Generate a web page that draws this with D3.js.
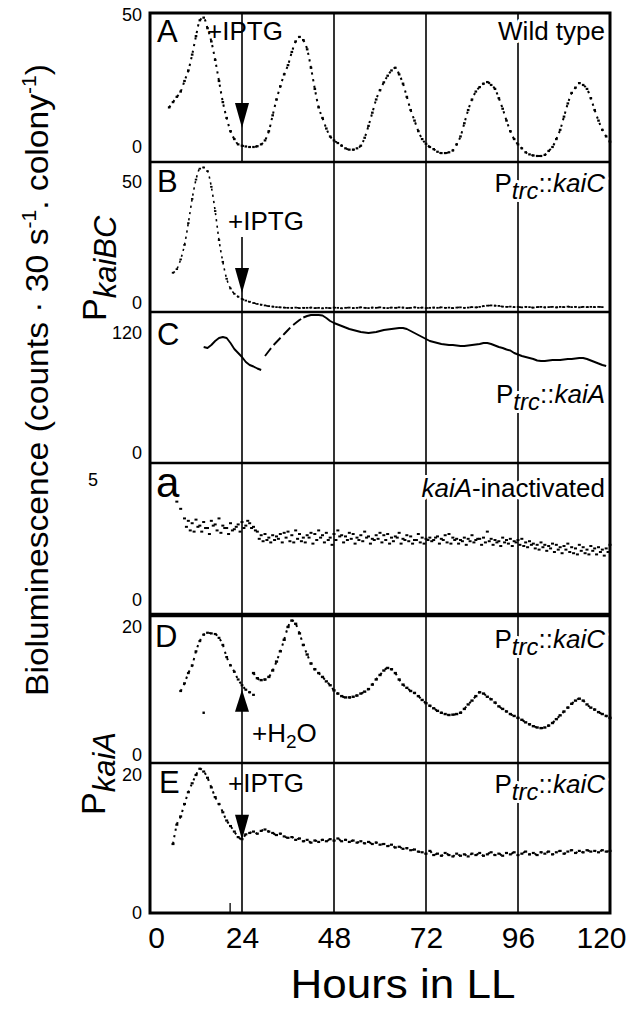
<!DOCTYPE html>
<html><head><meta charset="utf-8">
<script src="https://cdn.jsdelivr.net/npm/d3@7"></script>
<style>
body{margin:0;background:#fff}
svg{display:block}
text{font-family:"Liberation Sans",Arial,Helvetica,sans-serif;fill:#000}
</style>
</head><body>
<svg id="c" width="632" height="1014"></svg>
<script>
// ---------------- DATA ----------------
const hourTicks = [0, 24, 48, 72, 96, 120];
const gridHours = [24, 48, 72, 96];
const panelNames = ["A", "B", "C", "a", "D", "E"];
const panelTicks = [[0, 50], [0, 50], [0, 120], [0, 5], [0, 20], [0, 20]];
const panelNotes = ["Wild type", "Ptrc::kaiC", "Ptrc::kaiA", "kaiA-inactivated", "Ptrc::kaiC", "Ptrc::kaiC"];

// Panel A: wild type, hourly from h=5
const startA = 5;
const valsA = [15,17,19,21,25,29,35,42,48,49, 45,40,33,25,17,11,6,3,1,0.5,
  0.2,0,0,0.3,1,2.5,6,12,18,23, 27.5,31,36,40,41.7,40.5,37,30,22,15,
  11,7,4,2.5,1.5,0.5,-0.5,-1,-1,-0.5, 0.5,3.5,8,13,18,21.5,24.5,27,29,30,
  27.5,24,19,14,10,6,3,1.2,0,-0.8, -1.8,-2.3,-2.3,-2,-1.3,1,4,9,14,18,
  21,22.7,24,24.6,23.5,22,18.5,14.5,10,6, 3,1,-0.5,-2,-2.8,-3.2,-3.4,-3.4,-3,-1.5,
  0,3,6.5,11.5,16.5,20.5,22.5,24.2,23.5,22, 18.5,14,10,6.5,4,2];

// Panel B: Ptrc::kaiC + IPTG, hourly from h=6
const startB = 6;
const valsB = [12.5,14,18,24,33,43,51,55.5,56,54.5, 48,38,26,17,10,6,3.8,2.6,1.7,1,
  0.5,0,-0.4,-0.7,-1,-1.3,-1.5,-1.7,-1.8,-1.9, -2,-2,-1.9,-2.1,-2,-2,-1.9,-2.1,-2,-2.2,
  -2,-2.1,-1.9,-2,-2.2,-2,-1.9,-2.1,-2,-1.8, -2,-2.1,-1.9,-2,-1.8,-2,-2.1,-1.9,-2,-1.8,
  -1.9,-2.1,-2,-1.8,-2,-1.9,-2.1,-2,-1.9,-2, -1.8,-2,-1.9,-2.1,-1.9,-1.8,-2,-1.9,-1.7,-1.8,
  -1.6,-1.3,-1.1,-1,-1.1,-1.2,-1.5,-1.6,-1.5,-1.7, -1.6,-1.8,-1.6,-1.7,-1.9,-1.7,-1.6,-1.8,-1.7,-1.6,
  -1.8,-1.6,-1.7,-1.5,-1.7,-1.6,-1.8,-1.6,-1.7,-1.6, -1.7,-1.6,-1.7];

// Panel C: Ptrc::kaiA, two segments
const startC1 = 14;
const valsC1 = [106,105,108,112,115,116,115,110,104,100,96,91,88,86.5,84.5,83];
const startC2 = 30;
const valsC2 = [97,102,107,111,115,119,123,127,130,133,
  135.5,137,138,138,138,137.5,135,132,130,128.5, 127,125.5,124,123,122,121,120.5,120,120.5,121,
  122,123,123.5,124,124.5,125,125,124,122,120, 118,116,114,112,111,110,109,108.5,108,108,
  107.5,107,107,107.5,108,108.5,109,110,110,109, 107.5,106,105,103.5,102.5,100,98.5,97,96,95,
  94,92.5,92,92,92.5,93,93,93,93.5,94, 94,94.5,95,95,94,92.5,91,89.5,88,87];
const dashedUntilC2 = 40; // hour where dashed part of C2 ends

// Panel a: kaiA-inactivated, two overlapping scatter traces
const startA1 = 7;
const valsA1 = [4.1,3.8,3.4,3.3,3.2,3.35,3.1,3.25,3.0,3.3, 3.15,3.4,3.1,3.0,3.2,2.95,3.15,3.25,3.1,3.2,
  3.05,2.85,2.7,2.75,2.6,2.7,2.65,2.75,2.8,2.85, 2.7,2.9,2.75,2.6,2.7,2.8,2.75,2.9,2.7,2.8,
  2.6,2.75,2.9,2.7,2.65,2.8,2.75,2.6,2.7,2.85, 2.65,2.55,2.7,2.8,2.7,2.75,2.6,2.65,2.8,2.55,
  2.7,2.65,2.5,2.75,2.6,2.55,2.6,2.5,2.65,2.55, 2.7,2.75,2.6,2.55,2.5,2.6,2.55,2.7,2.5,2.55,
  2.6,2.85,2.55,2.5,2.45,2.6,2.5,2.55,2.45,2.5, 2.55,2.4,2.45,2.35,2.3,2.4,2.3,2.25,2.35,2.3,
  2.2,2.25,2.35,2.2,2.15,2.3,2.2,2.1,2.25,2.15, 2.2,2.1,2.15,2.3];
const startA2 = 9.5;
const valsA2 = [3.05,2.9,2.85,3.05,2.85,3.0,2.75,3.1,2.9,2.8, 3.0,2.75,2.9,3.05,2.85,3.0,3.3,3.0,2.9,2.55,
  2.45,2.5,2.4,2.5,2.55,2.4,2.6,2.45,2.4,2.55, 2.45,2.4,2.6,2.35,2.5,2.6,2.4,2.5,2.3,2.5,
  2.65,2.4,2.5,2.55,2.35,2.5,2.45,2.6,2.35,2.5, 2.55,2.4,2.5,2.35,2.45,2.6,2.35,2.5,2.45,2.35,
  2.5,2.4,2.35,2.5,2.45,2.6,2.35,2.5,2.4,2.35, 2.5,2.35,2.45,2.3,2.45,2.4,2.55,2.3,2.4,2.45,
  2.3,2.4,2.25,2.4,2.35,2.25,2.4,2.3,2.25,2.2, 2.3,2.15,2.1,2.2,2.05,2.15,2.0,2.1,1.95,2.1,
  2.0,1.95,1.9,2.05,1.95,1.9,2.05,1.9,2.0,1.85, 2.0];

// Panel D: Ptrc::kaiC + H2O
const startD1 = 8;
const valsD1 = [10,11.2,12.8,14,16.2,17.8,18.8,19.1,19,18.9,18.3,17.2,15.3,14,13,11.8,10.9,10.2,9.8,9.4];
const strayD = [[14, 6.6]];
const startD2 = 27;
const valsD2 = [12.8,12,11.7,11.8,12.2,13.2,14.6,16.2,18,20,
  21,20.5,19,17.2,15.7,14.3,13.4,12.8,12.2,11.5, 10.9,10.1,9.6,9.2,9,9,9.1,9.3,9.6,9.9,
  10.3,11,11.8,12.5,13.2,13.6,13.4,12.8,11.8,11, 10.5,10,9.7,9.2,8.6,8.1,7.7,7.3,6.9,6.6,
  6.4,6.25,6.3,6.4,6.6,7.2,7.9,8.5,9.2,9.8, 9.6,9.1,8.7,8.2,7.6,7.2,6.8,6.4,6.1,5.8,
  5.5,5.1,4.8,4.5,4.3,4.2,4.3,4.6,5,5.6, 6.2,6.8,7.4,8,8.5,8.8,8.5,7.9,7.4,7.1, 6.7,6.4,6.1,5.8];

// Panel E: Ptrc::kaiC + IPTG
const startE = 6;
const valsE = [10,12.8,14,15.8,17.5,18.8,20,20.9,20.5,19.6, 18.2,16.8,15.8,14.6,13.4,12.6,11.8,11.0,10.7,11.4,
  11.6,11.8,11.5,11.9,12.1,11.8,11.6,11.3,11.5,11.1, 10.9,11.0,10.6,10.8,10.4,10.6,10.2,10.5,10.3,10.6,
  10.4,10.7,10.5,10.8,10.4,10.6,10.3,10.5,10.2,10.4, 10.1,10.3,10.0,10.2,9.9,10.0,9.7,9.9,9.5,9.6,
  9.3,9.4,9.1,9.2,8.9,8.8,8.6,9.0,8.4,8.6, 8.3,8.7,8.4,8.2,8.6,8.3,8.5,8.2,8.6,8.4,
  8.7,8.3,8.5,8.8,8.4,8.6,8.3,8.7,8.5,8.8, 8.4,8.6,8.9,8.5,8.7,8.4,8.8,8.6,8.9,8.5,
  8.8,9.0,8.6,8.9,9.1,8.7,9.0,8.8,9.1,8.9, 9.0,8.8,9.1,8.9,9.0];

// Arrow annotations: panel index, hour, value at tip, direction (1 = down, -1 = up)
const arrows = [
  {p: 0, h: 24, tip: 7.2, dir: 1, label: "+IPTG"},
  {p: 1, h: 24, tip: 4.1, dir: 1, label: "+IPTG"},
  {p: 4, h: 24, tip: 10.2, dir: -1, label: "+H2O"},
  {p: 5, h: 24, tip: 10.6, dir: 1, label: "+IPTG"}
];

// ---------------- LAYOUT ----------------
const svg = d3.select("#c");
const X0 = 150, X1 = 610;
const edges = [13, 162, 312, 463, 615, 763, 913];
const domains = [[-5.68, 50.76], [-3.72, 58.26], [-10, 141], [-0.625, 5.71], [-1.25, 21.875], [0, 21.74]];
const x = d3.scaleLinear().domain([0, 120]).range([X0, X1]);
const ys = domains.map((dm, i) => d3.scaleLinear().domain(dm).range([edges[i + 1], edges[i]]));

const gLines = svg.append("g");
const gData = svg.append("g");
const gText = svg.append("g");

// vertical grid lines
ys.forEach((y, i) => {
  gridHours.forEach(h => {
    if (i === 1 && h === 24) return; // panel B: arrow only
    gLines.append("line").attr("x1", x(h)).attr("x2", x(h))
      .attr("y1", edges[i]).attr("y2", edges[i + 1])
      .attr("stroke", "#000").attr("stroke-width", 1.6);
  });
});

// ---------- data marks ----------
function marks(y, start, vals, w = 3.2, hgt = 2.2) {
  gData.append("g").selectAll("rect").data(vals).join("rect")
    .attr("x", (d, i) => x(start + i) - w / 2)
    .attr("y", d => y(d) - hgt / 2)
    .attr("width", w).attr("height", hgt).attr("fill", "#000");
}
function dotted(y, start, vals, dash = "2.2,4.5", sw = 2) {
  const line = d3.line().x((d, i) => x(start + i)).y(d => y(d)).curve(d3.curveMonotoneX);
  gData.append("path").attr("d", line(vals)).attr("fill", "none")
    .attr("stroke", "#000").attr("stroke-width", sw).attr("stroke-dasharray", dash);
}
function solid(y, pts, sw = 1.8, dash = null) {
  const line = d3.line().x(d => x(d[0])).y(d => y(d[1]));
  const p = gData.append("path").attr("d", line(pts)).attr("fill", "none")
    .attr("stroke", "#000").attr("stroke-width", sw).attr("stroke-linejoin", "round");
  if (dash) p.attr("stroke-dasharray", dash);
}

// A
dotted(ys[0], startA, valsA); marks(ys[0], startA, valsA, 2.6, 2.2);
// B
dotted(ys[1], startB, valsB, "2.2,4", 1.6); marks(ys[1], startB, valsB, 2.4, 1.8);
// C
const c1 = valsC1.map((v, i) => [startC1 + i, v]);
const c2 = valsC2.map((v, i) => [startC2 + i, v]);
solid(ys[2], c1, 1.9);
solid(ys[2], c2.filter(d => d[0] <= dashedUntilC2), 1.9, "10,4");
solid(ys[2], c2.filter(d => d[0] >= dashedUntilC2), 1.9);
// a
marks(ys[3], startA1, valsA1, 3, 2);
marks(ys[3], startA2, valsA2, 3, 2);
// D
dotted(ys[4], startD1, valsD1); marks(ys[4], startD1, valsD1, 2.8, 2.2);
dotted(ys[4], startD2, valsD2); marks(ys[4], startD2, valsD2, 3.2, 2.4);
strayD.forEach(d => gData.append("rect").attr("x", x(d[0]) - 1.2).attr("y", ys[4](d[1]) - 1.2)
  .attr("width", 2.4).attr("height", 2.4));
// E
dotted(ys[5], startE, valsE); marks(ys[5], startE, valsE, 3, 2.2);

// ---------- arrows ----------
arrows.forEach(a => {
  const y = ys[a.p], xa = x(a.h), ty = y(a.tip);
  if (a.p === 1) {
    gLines.append("line").attr("x1", xa).attr("x2", xa).attr("y1", 237).attr("y2", edges[2])
      .attr("stroke", "#000").attr("stroke-width", 1.6);
  }
  const hl = a.dir === 1 ? 25 : 22, hw = 7;
  const by = ty - a.dir * hl;
  gLines.append("path").attr("d", `M${xa - hw},${by}L${xa + hw},${by}L${xa},${ty}Z`).attr("fill", "#000");
});

// ---------- frame ----------
edges.slice(1, -1).forEach((e, i) => {
  gLines.append("line").attr("x1", X0).attr("x2", X1).attr("y1", e).attr("y2", e)
    .attr("stroke", "#000").attr("stroke-width", i === 3 ? 4.5 : 2.3);
});
gLines.append("rect").attr("x", X0).attr("y", edges[0]).attr("width", X1 - X0).attr("height", edges[6] - edges[0])
  .attr("fill", "none").attr("stroke", "#000").attr("stroke-width", 3);
// small stray tick at bottom of E
gLines.append("line").attr("x1", x(20.9)).attr("x2", x(20.9)).attr("y1", 903).attr("y2", 913)
  .attr("stroke", "#000").attr("stroke-width", 1.3);

// ---------- axes ----------
ys.forEach((y, i) => {
  const ax = svg.append("g").attr("transform", `translate(${X0},0)`)
    .call(d3.axisLeft(y).tickValues(panelTicks[i]).tickSize(0).tickPadding(8).tickFormat(d3.format("d")));
  ax.select(".domain").remove();
  ax.selectAll("text").style("font-size", "18px").style("font-family", '"Liberation Sans",Arial,sans-serif');
  if (i === 3) ax.selectAll(".tick").filter(d => d === 5).select("text").attr("x", -52);
});
const xa = svg.append("g").attr("transform", `translate(0,${edges[6]})`)
  .call(d3.axisBottom(x).tickValues(hourTicks).tickSize(0).tickPadding(14));
xa.select(".domain").remove();
xa.selectAll("text").style("font-size", "30px").style("font-family", '"Liberation Sans",Arial,sans-serif');
xa.selectAll(".tick").filter(d => d === 0).select("text").attr("x", 6);
xa.selectAll(".tick").filter(d => d === 120).select("text").attr("x", -9);

svg.append("text").attr("x", 403).attr("y", 998).attr("text-anchor", "middle")
  .attr("textLength", 225).attr("lengthAdjust", "spacingAndGlyphs")
  .style("font-size", "40px").text("Hours in LL");

// y title
const yt = svg.append("text").attr("transform", "translate(48,380) rotate(-90)")
  .attr("text-anchor", "middle").style("font-size", "32px")
  .attr("textLength", 632).attr("lengthAdjust", "spacingAndGlyphs");
yt.append("tspan").text("Bioluminescence (counts · 30 s");
yt.append("tspan").attr("dy", -12).style("font-size", "20px").text("-1");
yt.append("tspan").attr("dy", 12).text(". colony");
yt.append("tspan").attr("dy", -12).style("font-size", "20px").text("-1");
yt.append("tspan").attr("dy", 12).text(")");

// promoter labels
function promoter(tx, ty, sub) {
  const t = svg.append("text").attr("transform", `translate(${tx},${ty}) rotate(-90)`).style("font-size", "34px");
  t.append("tspan").text("P");
  t.append("tspan").attr("dy", 10).style("font-size", "31px").style("font-style", "italic").text(sub);
}
promoter(106, 321, "kaiBC");
promoter(105, 815, "kaiA");

// ---------- panel letters ----------
const letterPos = [[157, 42, 31], [157, 192, 31], [157, 345, 31], [156, 497, 42], [155, 647, 31], [159, 793, 31]];
panelNames.forEach((n, i) => {
  gText.append("text").attr("x", letterPos[i][0]).attr("y", letterPos[i][1])
    .style("font-size", letterPos[i][2] + "px").text(n);
});

// ---------- right-side notes ----------
const noteBase = [40, 192, 403, 497, 648, 793];
function halo(t) { return t.attr("stroke", "#fff").attr("stroke-width", 6).attr("paint-order", "stroke").attr("stroke-linejoin", "round"); }
panelNotes.forEach((n, i) => {
  const t = halo(gText.append("text").attr("x", 605).attr("y", noteBase[i]).attr("text-anchor", "end").style("font-size", "26px"));
  if (n.startsWith("Ptrc::")) {
    t.append("tspan").text("P");
    t.append("tspan").attr("dy", 7).style("font-size", "24px").style("font-style", "italic").text("trc");
    t.append("tspan").attr("dy", -7).text("::");
    t.append("tspan").style("font-style", "italic").text(n.slice(6));
  } else if (n.startsWith("kaiA-")) {
    t.append("tspan").style("font-style", "italic").text("kaiA");
    t.append("tspan").text(n.slice(4));
  } else {
    t.text(n);
  }
});

// ---------- arrow labels ----------
const labelPos = [[207, 40], [228, 230], [252, 742], [228, 792]];
arrows.forEach((a, i) => {
  const t = gText.append("text").attr("x", labelPos[i][0]).attr("y", labelPos[i][1]).style("font-size", "26px");
  if (a.label === "+H2O") {
    t.append("tspan").text("+H");
    t.append("tspan").attr("dy", 6).style("font-size", "19px").text("2");
    t.append("tspan").attr("dy", -6).text("O");
  } else t.text(a.label);
});
</script>
</body></html>
